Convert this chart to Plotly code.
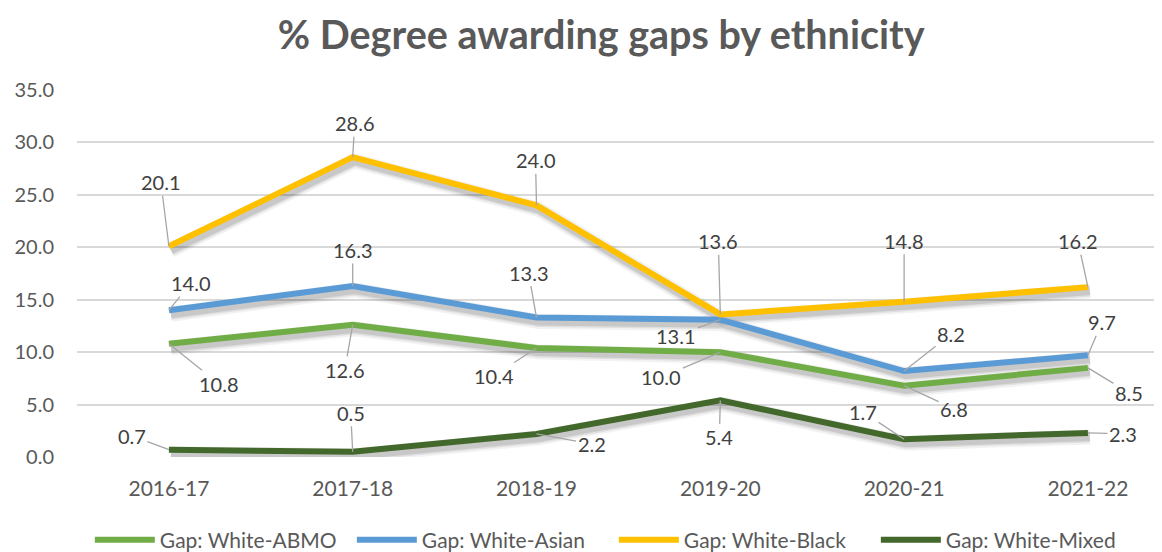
import plotly.graph_objects as go

years = ["2016-17", "2017-18", "2018-19", "2019-20", "2020-21", "2021-22"]
abmo = [10.8, 12.6, 10.4, 10.0, 6.8, 8.5]
asian = [14.0, 16.3, 13.3, 13.1, 8.2, 9.7]
black = [20.1, 28.6, 24.0, 13.6, 14.8, 16.2]
mixed = [0.7, 0.5, 2.2, 5.4, 1.7, 2.3]
names = ["Gap: White-ABMO", "Gap: White-Asian", "Gap: White-Black", "Gap: White-Mixed"]
colors = ["#70AD47", "#5B9BD5", "#FFC000", "#43682B"]

series = [abmo, asian, black, mixed]

# label offsets (pixels) for data labels, per series
offsets = [
    [(50, 40), (-8, 45), (-43, 28), (-59, 25), (50, 23), (41, 25)],
    [(22, -27), (0, -36), (-8, -45), (-44, 16), (47, -37), (14, -33)],
    [(-8, -64), (2, -34), (-1, -45), (-2, -73), (0, -61), (-10, -46)],
    [(-37, -14), (-2, -39), (55, 10), (-1, 37), (-41, -27), (35, 1)],
]

FONT = "Lato"
fig = go.Figure()

# soft shadows (on shifted hidden axes)
for w, a in [(15, 0.05), (11, 0.08), (8, 0.10)]:
    for vals in series:
        fig.add_trace(go.Scatter(x=years, y=vals, mode="lines", xaxis="x", yaxis="y",
                                 line=dict(color=f"rgba(0,0,0,{a})", width=w),
                                 showlegend=False, hoverinfo="skip"))

for vals, name, col in zip(series, names, colors):
    fig.add_trace(go.Scatter(x=years, y=vals, mode="lines", name=name,
                             xaxis="x2", yaxis="y2",
                             line=dict(color=col, width=6)))

annotations = []
for vals, offs in zip(series, offsets):
    for yr, v, (dx, dy) in zip(years, vals, offs):
        annotations.append(dict(x=yr, y=v, xref="x2", yref="y2", text=f"{v:.1f}",
                                showarrow=True, arrowhead=0, arrowwidth=1.3,
                                arrowcolor="#A6A6A6", ax=dx, ay=dy, standoff=0,
                                font=dict(family=FONT, size=20, color="#404040")))

px_x = 2 / 183.8
px_y = 4 / 10.49
xr = [-0.5, 5.403]
yr = [0, 35]

fig.update_layout(
    width=1154, height=544,
    margin=dict(l=69, r=0, t=82, b=95),
    paper_bgcolor="white", plot_bgcolor="white",
    title=dict(text="<b>% Degree awarding gaps by ethnicity</b>", x=0.514, xref="container",
               xanchor="center", y=0.95, yanchor="middle",
               font=dict(family=FONT, size=39.5, color="#595959")),
    xaxis=dict(range=[xr[0] - px_x, xr[1] - px_x], visible=False, fixedrange=True),
    yaxis=dict(range=[yr[0] + px_y, yr[1] + px_y], visible=False, fixedrange=True),
    xaxis2=dict(range=xr, overlaying="x", showgrid=False, zeroline=False,
                showline=False, ticks="", tickfont=dict(family=FONT, size=21, color="#595959"),
                ticklabelstandoff=17),
    yaxis2=dict(range=yr, overlaying="y", side="left", dtick=5, tickformat=".1f",
                showgrid=True, gridcolor="#D9D9D9", gridwidth=1.5, zeroline=False,
                ticks="", tickfont=dict(family=FONT, size=20, color="#595959"),
                ticklabelstandoff=22),
    legend=dict(orientation="h", xref="container", yref="container", x=0.525, y=0.022,
                xanchor="center", yanchor="middle",
                font=dict(family=FONT, size=21, color="#595959"),
                itemwidth=60, entrywidth=187, tracegroupgap=0),
    annotations=annotations,
    hovermode=False,
    showlegend=True,
)

fig.write_html("out.html")
